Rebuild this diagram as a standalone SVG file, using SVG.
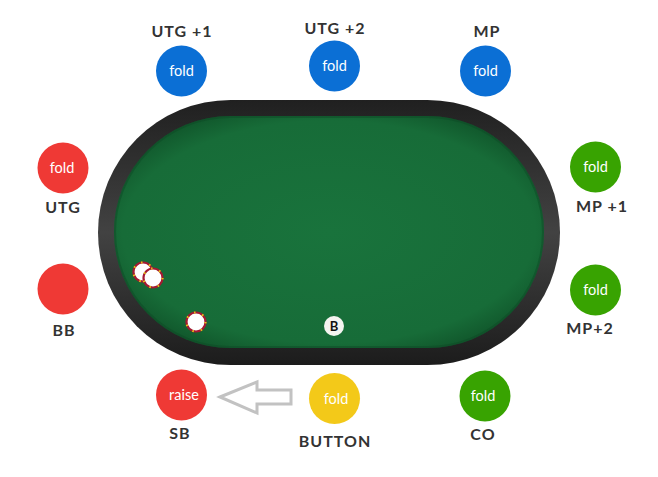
<svg xmlns="http://www.w3.org/2000/svg" width="658" height="477" viewBox="0 0 658 477">
<style>
.lbl{font-family:Lato,"Open Sans",sans-serif;font-weight:bold;font-size:16px;fill:#333;text-anchor:middle;letter-spacing:1px}
.act{font-family:Lato,"Open Sans",sans-serif;font-size:14.5px;fill:#fff;text-anchor:middle}
.blue{fill:#0b6fd5}.red{fill:#ef3935}.green{fill:#38a301}.yellow{fill:#f3c919}
.chip{fill:#fff;stroke:#a41a32;stroke-width:2.2}
.chipd{fill:none;stroke:#e8c21c;stroke-width:2.2;stroke-dasharray:1.5 7}
</style>
<defs>
<linearGradient id="rim" x1="0" y1="0" x2="0" y2="1">
<stop offset="0" stop-color="#202020"/><stop offset="0.5" stop-color="#424242"/><stop offset="1" stop-color="#1c1c1c"/>
</linearGradient>
<radialGradient id="felt" cx="0.5" cy="0.5" r="0.6">
<stop offset="0" stop-color="#19733c"/><stop offset="0.8" stop-color="#176c38"/><stop offset="1" stop-color="#0f5128"/>
</radialGradient>
</defs>
<rect width="658" height="477" fill="#fff"/>
<g id="table">
<rect x="98" y="100" width="462" height="265" rx="132.5" ry="132.5" fill="url(#rim)"/>
<rect x="114" y="116" width="430" height="232" rx="116" ry="116" fill="url(#felt)"/>
<rect x="115" y="117" width="428" height="230" rx="115" ry="115" fill="none" stroke="#0d4a25" stroke-width="2" opacity="0.5"/>
</g>
<g id="chips">
<circle class="chip" cx="143" cy="272" r="9.5"/><circle class="chipd" cx="143" cy="272" r="9.5"/>
<circle class="chip" cx="153" cy="278" r="9.5"/><circle class="chipd" cx="153" cy="278" r="9.5"/>
<circle class="chip" cx="196" cy="322" r="9.5"/><circle class="chipd" cx="196" cy="322" r="9.5"/>
</g>
<g id="dealer">
<circle cx="334" cy="326" r="10" fill="#f4f4f0"/>
<text x="334" y="331" font-family="Lato,'Open Sans',sans-serif" font-weight="bold" font-size="13" fill="#111" text-anchor="middle">B</text>
</g>
<g id="utg1"><circle class="blue" cx="181.5" cy="71" r="25.5"/><text class="act" x="181.5" y="76">fold</text><text class="lbl" x="182" y="37">UTG +1</text></g>
<g id="utg2"><circle class="blue" cx="334.5" cy="66" r="25.5"/><text class="act" x="334.5" y="71">fold</text><text class="lbl" x="335" y="34">UTG +2</text></g>
<g id="mp"><circle class="blue" cx="485.5" cy="71" r="25.5"/><text class="act" x="485.5" y="76">fold</text><text class="lbl" x="487" y="37">MP</text></g>
<g id="utg"><circle class="red" cx="63" cy="168" r="25.5"/><text class="act" x="62" y="173">fold</text><text class="lbl" x="63" y="213">UTG</text></g>
<g id="bb"><circle class="red" cx="63" cy="289" r="25.5"/><text class="lbl" x="64" y="336">BB</text></g>
<g id="mp1"><circle class="green" cx="595.5" cy="167" r="25.5"/><text class="act" x="595.5" y="172">fold</text><text class="lbl" x="602" y="212">MP +1</text></g>
<g id="mp2"><circle class="green" cx="595.5" cy="290" r="25.5"/><text class="act" x="595.5" y="295">fold</text><text class="lbl" x="590" y="334">MP+2</text></g>
<g id="sb"><circle class="red" cx="181.5" cy="395" r="25.5"/><text class="act" x="184" y="400">raise</text><text class="lbl" x="180" y="439">SB</text></g>
<g id="button"><circle class="yellow" cx="334.5" cy="398.5" r="25.5"/><text class="act" x="336" y="404">fold</text><text class="lbl" x="335" y="447">BUTTON</text></g>
<g id="co"><circle class="green" cx="485" cy="396" r="25.5"/><text class="act" x="483" y="401">fold</text><text class="lbl" x="483" y="440">CO</text></g>
<g id="connectors">
<polygon points="220,397 257,382 257,390 291,390 291,404 257,404 257,413" fill="none" stroke="#c2c2c2" stroke-width="3" stroke-linejoin="miter"/>
</g>
</svg>
